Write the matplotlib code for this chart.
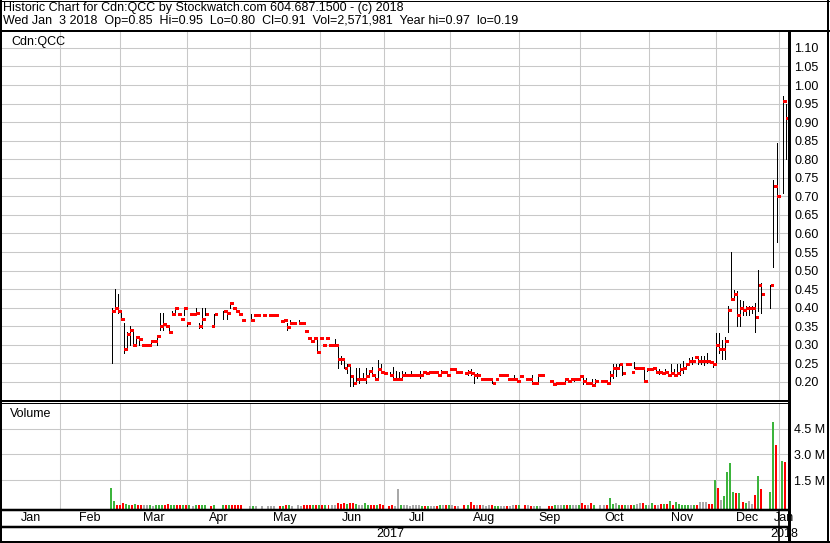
import numpy as np
import pandas as pd
import matplotlib
matplotlib.use("Agg")
import matplotlib.pyplot as plt
from matplotlib.lines import Line2D
from matplotlib.transforms import blended_transform_factory

plt.rcParams['font.family'] = ['Liberation Sans', 'DejaVu Sans']

W, H = 830, 543

# one slot per weekday, None = no trade that day
first_day = '2017-02-24'
last_day = '2018-01-03'

high = [.40, .45, .437, .39, .36, .335, .35, .335, .32, .32, .30, .30, .30, .31, .31, .325, .385, .385, .36, .35,
        .39, .40, .385, .37, .40, .36, .383, .383, .40, .36, .40, .40, None, .35, .383, None, None, .39, .39, .412,
        .40, .39, .383, .368, None, None, .383, .38, .38, None, .38, None, .38, .38, .38, None, .364, .368, .36, .366,
        .358, None, .366, .358, .338, .318, .31, .318, .318, .318, .30, .318, .30, .30, .316, .30, .271, .257, .248, .244,
        .217, .239, .239, .223, .239, .23, .241, .218, .259, .248, .223, None, .228, .241, .23, .228, .23, .228, .218, .23,
        .218, .218, .23, .228, .223, .228, .228, .228, .228, .232, .228, .228, .235, .235, .228, .228, None, .223, .232, .235,
        .228, .223, .209, .209, .209, .209, .209, .209, .218, .218, .218, .209, .209, .218, .203, .215, None, .209, .209, .218,
        .198, .218, .218, None, None, .203, .203, .198, .198, .198, .212, .212, .212, .212, .209, .218, .212, .212, .198, .209,
        .209, None, .203, .203, .203, .23, .248, .248, .248, .248, .248, .248, .228, .253, .239, .239, .239, .239, .235, .239,
        .239, .235, .223, .235, .228, .248, .235, .248, .248, .257, .248, .264, .268, .268, .268, .27, .27, .277, .253, .253,
        .331, .331, .313, .322, .404, .55, .449, .444, .422, .417, .404, .404, .404, .413, .503, .467, None, None, .462, .744,
        .843, None, .97, .95]

low = [.25, .39, .385, .37, .277, .285, .30, .30, .30, .30, .30, .30, .30, .30, .31, .30, .34, .34, .35, .335,
       .38, .38, .38, .37, .38, .35, .383, .383, .383, .345, .345, .38, None, .35, .35, None, None, .37, .37, .40,
       .40, .39, .383, .368, None, None, .368, .38, .38, None, .38, None, .38, .38, .38, None, .364, .368, .34, .358,
       .358, None, .358, .358, .338, .318, .31, .31, .28, .318, .30, .318, .30, .30, .30, .239, .248, .239, .223, .189,
       .189, .198, .198, .209, .198, .217, .218, .209, .212, .223, .223, None, .218, .209, .209, .209, .209, .218, .218, .218,
       .218, .218, .212, .218, .223, .228, .228, .228, .218, .228, .228, .218, .235, .235, .228, .228, None, .223, .218, .218,
       .198, .212, .209, .209, .209, .209, .198, .209, .218, .218, .218, .209, .209, .209, .203, .215, None, .209, .209, .198,
       .198, .198, .218, None, None, .203, .194, .198, .198, .198, .198, .203, .203, .203, .209, .209, .194, .194, .198, .19,
       .198, None, .203, .203, .194, .194, .212, .215, .235, .218, .248, .248, .228, .239, .239, .239, .203, .23, .235, .239,
       .223, .221, .223, .221, .218, .218, .218, .223, .218, .223, .235, .248, .248, .268, .248, .248, .245, .25, .253, .241,
       .25, .277, .261, .263, .336, .426, .426, .35, .35, .381, .381, .381, .385, .336, .39, .385, None, None, .399, .511,
       .578, None, .71, .80]

close = [.39, .40, .39, .37, .29, .33, .34, .30, .32, .317, .30, .30, .30, .31, .31, .325, .35, .355, .35, .335,
         .383, .40, .383, .37, .40, .36, .383, .383, .385, .35, .37, .383, None, .35, .383, None, None, .39, .385, .412,
         .40, .39, .383, .368, None, None, .368, .38, .38, None, .38, None, .38, .38, .38, None, .364, .368, .348, .358,
         .358, None, .358, .358, .338, .318, .31, .318, .28, .318, .30, .318, .30, .30, .30, .263, .262, .239, .245, .217,
         .198, .209, .209, .209, .217, .23, .218, .209, .235, .228, .223, None, .218, .209, .209, .209, .218, .218, .218, .218,
         .218, .218, .218, .228, .223, .228, .228, .228, .218, .228, .228, .218, .235, .235, .228, .228, None, .223, .228, .223,
         .218, .218, .209, .209, .209, .209, .198, .209, .218, .218, .218, .209, .209, .209, .203, .215, None, .209, .209, .198,
         .198, .218, .218, None, None, .203, .194, .198, .198, .198, .209, .203, .209, .209, .209, .215, .203, .198, .198, .192,
         .203, None, .203, .203, .198, .218, .239, .239, .248, .223, .248, .248, .228, .239, .239, .239, .203, .235, .235, .239,
         .228, .228, .223, .228, .218, .223, .218, .223, .235, .239, .248, .257, .257, .268, .257, .257, .257, .257, .253, .248,
         .30, .29, .29, .311, .395, .424, .437, .381, .40, .394, .40, .40, .40, .375, .46, .436, None, None, .46, .728,
         .70, None, .957, .91]

# volume in millions of shares
volume = [1.06, .28, .05, .05, .15, .10, .06, .05, .10, .04, .04, .06, .03, .05, .02, .05, .06, .06, .03, .10,
          .04, .04, .03, .03, .03, .03, .03, .02, .03, .03, .05, .03, None, .02, .05, None, None, .03, .08, .04,
          .03, .03, .03, .03, None, None, .02, .02, .02, None, .02, None, .02, .02, .02, None, .02, .02, .03, .03,
          .02, None, .03, .02, .03, .03, .03, .03, .04, .03, .05, .04, .03, .04, .04, .19, .10, .16, .12, .14,
          .19, .12, .03, .03, .19, .08, .06, .08, .07, .11, .03, None, .02, .03, .02, .98, .03, .03, .03, .02,
          .03, .05, .03, .02, .02, .02, .02, .02, .02, .03, .05, .04, .05, .03, .02, .02, None, .03, .05, .25,
          .05, .06, .03, .03, .02, .03, .03, .02, .02, .02, .02, .02, .02, .03, .05, .05, None, .05, .03, .02,
          .02, .02, .02, None, None, .02, .02, .04, .05, .05, .06, .08, .05, .08, .06, .07, .15, .05, .05, .15,
          .05, None, .03, .03, .05, .48, .10, .15, .06, .05, .05, .05, .05, .06, .12, .15, .16, .05, .03, .15,
          .03, .05, .10, .12, .10, .30, .04, .23, .10, .08, .05, .05, .05, .05, .03, .20, .23, .20, .10, .10,
          1.50, 1.06, .34, .58, 1.99, 2.51, .83, .77, .77, .25, .19, .30, .12, .63, 1.74, .98, None, None, .83, 4.88,
          3.54, None, 2.61, 2.57]

price_ticks = np.round(np.arange(0.20, 1.101, 0.05), 2)
volume_ticks = [1.5, 3.0, 4.5]
month_names = ['Jan', 'Feb', 'Mar', 'Apr', 'May', 'Jun', 'Jul', 'Aug', 'Sep', 'Oct', 'Nov', 'Dec', 'Jan']

origin = np.datetime64('2017-02-01')
days = pd.bdate_range(first_day, last_day)
x_all = np.busday_count(origin, days.values.astype('datetime64[D]'))

ok = [c is not None for c in close]
x = x_all[ok].astype(float)
hi = np.array([v for v in high if v is not None])
lo = np.array([v for v in low if v is not None])
cl = np.array([v for v in close if v is not None])
vol = np.array([v for v in volume if v is not None])

# colour of volume bars: close against previous close
vcol = []
for i in range(len(cl)):
    prev = cl[i - 1] if i > 0 else lo[i]
    if cl[i] > prev:
        vcol.append('#3cb43c')
    elif cl[i] < prev:
        vcol.append('#ff0000')
    else:
        vcol.append('#a8a8a8')

# month gridlines (a weekend 1st sits one slot earlier)
month_starts = pd.date_range('2017-02-01', '2018-01-01', freq='MS')
grid_x = []
for d in month_starts:
    g = np.busday_count(origin, np.datetime64(d.date()))
    grid_x.append(g - (1.0 if d.weekday() >= 5 else 0.1))

px_per_day = 3.022
x0_px = 60.3


def fx(px):
    return px / W


def fy(py):
    return 1 - py / H


xlim = ((2 - x0_px) / px_per_day, (788.5 - x0_px) / px_per_day)

fig = plt.figure(figsize=(W / 100, H / 100), dpi=100)

# price panel
ax = fig.add_axes([fx(2), fy(400.8), fx(788.5) - fx(2), fy(31) - fy(400.8)])
ax.set_xlim(*xlim)
ax.set_ylim(0.20 + (382 - 400.8) / 371.25, 0.20 + (382 - 31) / 371.25)
ax.vlines(x, lo, hi, color='black', lw=0.7, zorder=3, antialiased=False)
ax.hlines(cl, x + 0.05, x + 1.0, color='#ff0000', lw=1.8, zorder=4, antialiased=False)
ax.set_yticks(price_ticks)
ax.set_yticklabels([f'{t:.2f}' for t in price_ticks])
ax.set_xticks(grid_x)
ax.set_xticklabels([])
ax.yaxis.tick_right()
ax.tick_params(axis='both', length=0)
ax.tick_params(axis='y', pad=4, labelsize=9)
ax.grid(True, color='#c8c8c8', lw=0.75, zorder=0)
ax.set_axisbelow(True)
for s in ax.spines.values():
    s.set_visible(False)
ax.text(fx(9) / (fx(788.5) - fx(2)), 0.97, 'Cdn:QCC', transform=ax.transAxes, fontsize=9,
        va='center', ha='left')

# volume panel
vmin, vmax = (505.9 - 510) / 17.2, (505.9 - 402.8) / 17.2
axv = fig.add_axes([fx(2), fy(510), fx(788.5) - fx(2), fy(402.8) - fy(510)])
axv.set_xlim(*xlim)
axv.set_ylim(vmin, vmax)
axv.bar(x - 0.25, vol - vmin, bottom=vmin, width=0.66, color=vcol, zorder=3, antialiased=False)
axv.set_yticks(volume_ticks)
axv.set_yticklabels([f'{t:.1f} M' for t in volume_ticks])
axv.set_xticks(grid_x)
axv.set_xticklabels([])
axv.yaxis.tick_right()
axv.tick_params(axis='both', length=0)
axv.tick_params(axis='y', pad=4, labelsize=9)
axv.grid(True, color='#c8c8c8', lw=0.75, zorder=0)
axv.set_axisbelow(True)
for s in axv.spines.values():
    s.set_visible(False)
axv.text(0.01, 0.9, 'Volume', transform=axv.transAxes, fontsize=9, va='center', ha='left')

# month and year labels
edges = [xlim[0]] + grid_x + [xlim[1]]
tr = blended_transform_factory(axv.transData, fig.transFigure)
for name, a, b in zip(month_names, edges[:-1], edges[1:]):
    axv.text((a + b) / 2, fy(518), name, transform=tr, ha='center', va='center', fontsize=9,
             clip_on=False)
axv.text((xlim[0] + grid_x[-1]) / 2, fy(534), '2017', transform=tr, ha='center', va='center',
         fontsize=9, clip_on=False)
axv.text((grid_x[-1] + xlim[1]) / 2, fy(534), '2018', transform=tr, ha='center', va='center',
         fontsize=9, clip_on=False)

# header
fig.text(fx(3), fy(7.5), 'Historic Chart for Cdn:QCC by Stockwatch.com 604.687.1500 - (c) 2018',
         fontsize=9, va='center', ha='left')
fig.text(fx(3), fy(21), 'Wed Jan  3 2018  Op=0.85  Hi=0.95  Lo=0.80  Cl=0.91  Vol=2,571,981  Year hi=0.97  lo=0.19',
         fontsize=9, va='center', ha='left')


# frame lines, in pixels
def line(x1, y1, x2, y2, w):
    fig.add_artist(Line2D([fx(x1), fx(x2)], [fy(y1), fy(y2)], color='black', lw=w * 0.72,
                          solid_capstyle='butt', zorder=10))


line(0, 31, W, 31, 2)
line(0, 400.8, 788.5, 400.8, 2)
line(0, 402.8, 788.5, 402.8, 1)
line(0, 510, 788.5, 510, 2.5)
line(0, 526.5, 788.5, 526.5, 2.5)
line(788.5, 31, 788.5, 542, 3)
jan_px = x0_px + px_per_day * grid_x[-1]
line(jan_px, 510, jan_px, 542, 1.5)
line(1, 0, 1, H, 2)
line(W - 2, 0, W - 2, H, 2)
line(0, H - 1.5, W, H - 1.5, 3)
line(0, 0.5, W, 0.5, 1)

fig.savefig('out.png', dpi=100)
